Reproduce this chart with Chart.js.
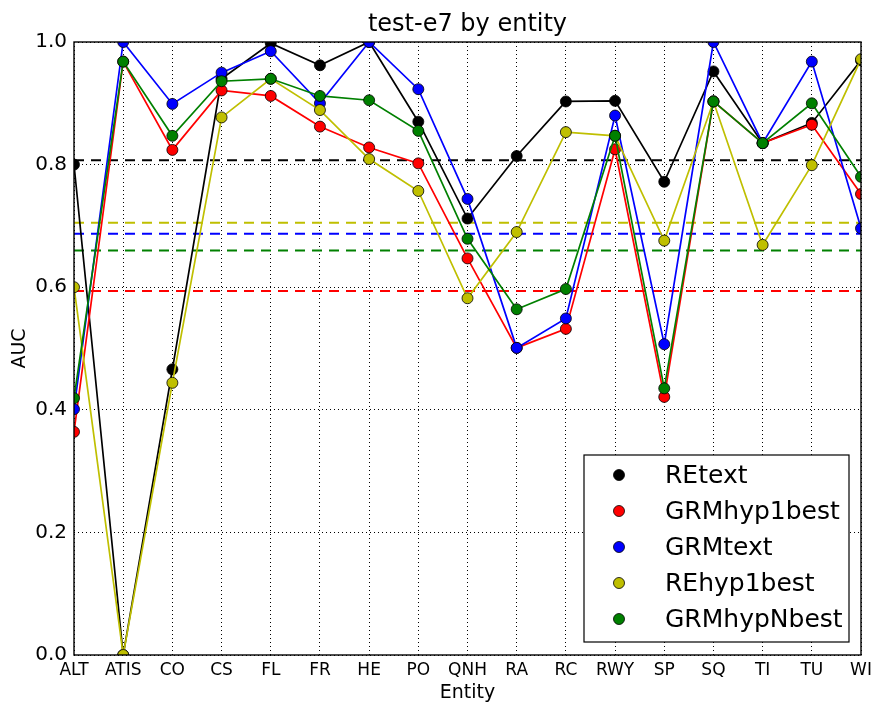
<!DOCTYPE html>
<html>
<head>
<meta charset="utf-8">
<script src="https://cdn.jsdelivr.net/npm/chart.js@4/dist/chart.umd.min.js"></script>
<style>
  html, body { margin: 0; padding: 0; background: #fff; }
  #wrap { width: 874px; height: 704px; }
</style>
</head>
<body>
<div id="wrap"><canvas id="chart" width="874" height="704"></canvas></div>
<script>
const CATEGORIES = ['ALT', 'ATIS', 'CO', 'CS', 'FL', 'FR', 'HE', 'PO', 'QNH', 'RA', 'RC', 'RWY', 'SP', 'SQ', 'TI', 'TU', 'WI'];

const RE_TEXT        = [0.800, 0.000, 0.466, 0.940, 0.998, 0.962, 1.000, 0.870, 0.712, 0.814, 0.903, 0.904, 0.772, 0.952, 0.835, 0.868, 0.970];
const GRM_HYP1BEST   = [0.364, 0.968, 0.824, 0.921, 0.912, 0.862, 0.828, 0.802, 0.647, 0.501, 0.532, 0.825, 0.421, 0.903, 0.835, 0.865, 0.752];
const GRM_TEXT       = [0.401, 1.000, 0.899, 0.950, 0.985, 0.900, 1.000, 0.923, 0.744, 0.501, 0.549, 0.880, 0.507, 1.000, 0.835, 0.968, 0.696];
const RE_HYP1BEST    = [0.600, 0.000, 0.444, 0.877, 0.940, 0.889, 0.809, 0.757, 0.582, 0.690, 0.853, 0.847, 0.676, 0.903, 0.669, 0.799, 0.972];
const GRM_HYPNBEST   = [0.419, 0.968, 0.847, 0.936, 0.940, 0.912, 0.905, 0.855, 0.679, 0.564, 0.597, 0.847, 0.435, 0.903, 0.835, 0.900, 0.780];

// mean AUC per series (dashed horizontal lines)
const MEANS = [0.807, 0.594, 0.687, 0.705, 0.660];

const SERIES_NAMES  = ['REtext', 'GRMhyp1best', 'GRMtext', 'REhyp1best', 'GRMhypNbest'];
const SERIES_VALUES = [RE_TEXT, GRM_HYP1BEST, GRM_TEXT, RE_HYP1BEST, GRM_HYPNBEST];
const COLORS        = ['#000000', '#FF0000', '#0000FF', '#BFBF00', '#008000'];

const Y_TICKS = [0, 0.2, 0.4, 0.6, 0.8, 1.0];

const FONT = '"DejaVu Sans", "Liberation Sans", sans-serif';

const seriesSets = SERIES_VALUES.map((vals, i) => ({
  label:                SERIES_NAMES[i],
  data:                 vals,
  borderColor:          COLORS[i],
  backgroundColor:      COLORS[i],
  pointBackgroundColor: COLORS[i],
  pointBorderColor:     '#000',
  pointBorderWidth:     0.8,
  pointRadius:          5.5,
  borderWidth:          1.7,
  tension:              0,
  fill:                 false,
  clip:                 0,
  order:                SERIES_VALUES.length - i,
}));

const meanSets = MEANS.map((m, i) => ({
  label:       SERIES_NAMES[i] + ' mean',
  data:        CATEGORIES.map(() => m),
  borderColor: COLORS[i],
  borderWidth: 2,
  borderDash:  [10, 7],
  pointRadius: 0,
  fill:        false,
  clip:        0,
  order:       20 + i,
}));

// title, frame and in-plot legend, drawn like the matplotlib original
const decorations = {
  id: 'decorations',
  afterDraw(chart) {
    const { ctx, chartArea: a } = chart;
    ctx.save();

    ctx.strokeStyle = '#000';
    ctx.lineWidth = 1.4;
    ctx.strokeRect(a.left, a.top, a.right - a.left, a.bottom - a.top);

    ctx.fillStyle = '#000';
    ctx.font = `24px ${FONT}`;
    ctx.textAlign = 'center';
    ctx.textBaseline = 'alphabetic';
    ctx.fillText('test-e7 by entity', (a.left + a.right) / 2, 31);

    // legend box
    const w = 265, h = 187;
    const x0 = a.right - 12 - w;
    const y0 = a.bottom - 13 - h;
    ctx.fillStyle = '#fff';
    ctx.fillRect(x0, y0, w, h);
    ctx.strokeStyle = '#000';
    ctx.lineWidth = 1.2;
    ctx.strokeRect(x0, y0, w, h);

    ctx.font = `25px ${FONT}`;
    ctx.textAlign = 'left';
    ctx.textBaseline = 'middle';
    SERIES_NAMES.forEach((name, i) => {
      const cy = y0 + 20 + i * 36;
      ctx.beginPath();
      ctx.arc(x0 + 35, cy, 5.5, 0, Math.PI * 2);
      ctx.fillStyle = COLORS[i];
      ctx.fill();
      ctx.lineWidth = 0.8;
      ctx.strokeStyle = '#000';
      ctx.stroke();
      ctx.fillStyle = '#000';
      ctx.fillText(name, x0 + 81, cy + 1);
    });
    ctx.restore();
  },
};

new Chart(document.getElementById('chart'), {
  type: 'line',
  data: { labels: CATEGORIES, datasets: [...seriesSets, ...meanSets] },
  plugins: [decorations],
  options: {
    responsive: false,
    animation: false,
    events: [],
    layout: { padding: { top: 42, right: 13, left: 0, bottom: 0 } },
    plugins: {
      legend:  { display: false },
      tooltip: { enabled: false },
      title:   { display: false },
    },
    scales: {
      x: {
        offset: false,
        grid:   { color: '#000', lineWidth: 1, drawTicks: false },
        border: { display: false, dash: [1, 3] },
        ticks:  { color: '#000', font: { family: FONT, size: 17 }, padding: 5, maxRotation: 0, autoSkip: false },
        title:  { display: true, text: 'Entity', color: '#000', font: { family: FONT, size: 19 }, padding: { top: 0, bottom: 0 } },
        afterFit: scale => { scale.height = 49; scale.paddingLeft = 0; scale.paddingRight = 0; },
      },
      y: {
        min: 0,
        max: 1,
        afterBuildTicks: scale => { scale.ticks = Y_TICKS.map(v => ({ value: v })); },
        grid:   { color: '#000', lineWidth: 1, drawTicks: false },
        border: { display: false, dash: [1, 3] },
        ticks:  { color: '#000', font: { family: FONT, size: 20 }, padding: 7, callback: v => v.toFixed(1) },
        title:  { display: true, text: 'AUC', color: '#000', font: { family: FONT, size: 19 }, padding: { top: 9, bottom: 0 } },
        afterFit: scale => { scale.width = 74; },
      },
    },
  },
});
</script>
</body>
</html>
